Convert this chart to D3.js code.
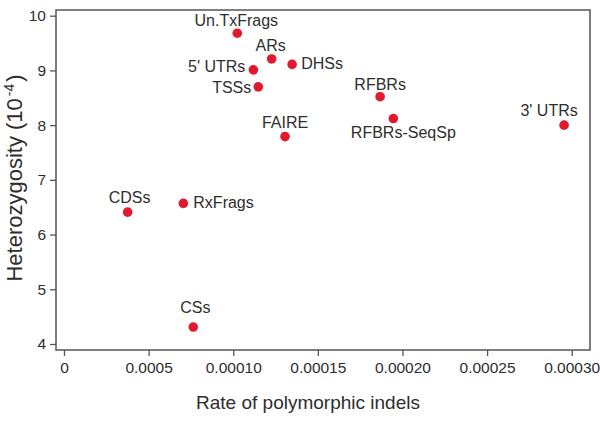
<!DOCTYPE html>
<html>
<head>
<meta charset="utf-8">
<script src="https://cdn.jsdelivr.net/npm/d3@7"></script>
<style>
  html, body { margin: 0; padding: 0; background: #fff; }
  svg text { font-family: "Liberation Sans", Arial, sans-serif; fill: #2e2e2e; }
</style>
</head>
<body>
<svg id="chart" width="600" height="421"></svg>
<script>
// ---- data ----
const categories = ["Un.TxFrags", "ARs", "DHSs", "5' UTRs", "TSSs", "FAIRE", "RFBRs", "RFBRs-SeqSp", "3' UTRs", "CDSs", "RxFrags", "CSs"];
const indelRate = [0.0001024, 0.0001227, 0.0001348, 0.0001119, 0.0001148, 0.0001306, 0.0001868, 0.0001946, 0.0002955, 0.0000376, 0.0000705, 0.0000764];
const heterozygosity = [9.68, 9.21, 9.11, 9.01, 8.70, 7.79, 8.52, 8.12, 8.00, 6.41, 6.57, 4.31];
const xTickValues = [0, 0.00005, 0.00010, 0.00015, 0.00020, 0.00025, 0.00030];
const xTickLabels = ["0", "0.0005", "0.00010", "0.00015", "0.00020", "0.00025", "0.00030"];
const yTickValues = [4, 5, 6, 7, 8, 9, 10];
const yTickLabels = ["4", "5", "6", "7", "8", "9", "10"];

// ---- label styling (anchor + pixel offsets from the point) ----
const labelStyle = {
  "Un.TxFrags":  { anchor: "middle", dx: -1,  dy: -7 },
  "ARs":         { anchor: "middle", dx: -1,  dy: -8 },
  "DHSs":        { anchor: "start",  dx: 9,   dy: 5 },
  "5' UTRs":     { anchor: "end",    dx: -8,  dy: 2 },
  "TSSs":        { anchor: "end",    dx: -7,  dy: 6 },
  "FAIRE":       { anchor: "middle", dx: 0,   dy: -9 },
  "RFBRs":       { anchor: "middle", dx: 0,   dy: -7 },
  "RFBRs-SeqSp": { anchor: "middle", dx: 10,  dy: 19 },
  "3' UTRs":     { anchor: "middle", dx: -15, dy: -9 },
  "CDSs":        { anchor: "middle", dx: 2,   dy: -9 },
  "RxFrags":     { anchor: "start",  dx: 10,  dy: 5 },
  "CSs":         { anchor: "middle", dx: 2,   dy: -14 }
};

// ---- layout ----
const svg = d3.select("#chart");
const box = { left: 56, right: 590, top: 10, bottom: 350 };

const x = d3.scaleLinear().domain([0, 0.0003]).range([64, 571.7]);
const y = d3.scaleLinear().domain([4, 10]).range([344, 15.7]);

// frame
svg.append("rect")
  .attr("x", box.left).attr("y", box.top)
  .attr("width", box.right - box.left).attr("height", box.bottom - box.top)
  .attr("fill", "none").attr("stroke", "#555").attr("stroke-width", 1.5);

// x axis
const xAxis = svg.append("g")
  .attr("transform", `translate(0,${box.bottom})`)
  .call(d3.axisBottom(x).tickValues(xTickValues)
    .tickFormat((d, i) => xTickLabels[i]).tickSize(6).tickPadding(6));
xAxis.select(".domain").remove();
xAxis.selectAll(".tick line").attr("stroke", "#555").attr("stroke-width", 1.3);
xAxis.selectAll(".tick text").style("font-size", "15.5px").attr("fill", "#2e2e2e");

// y axis
const yAxis = svg.append("g")
  .attr("transform", `translate(${box.left},0)`)
  .call(d3.axisLeft(y).tickValues(yTickValues)
    .tickFormat((d, i) => yTickLabels[i]).tickSize(6).tickPadding(4));
yAxis.select(".domain").remove();
yAxis.selectAll(".tick line").attr("stroke", "#555").attr("stroke-width", 1.3);
yAxis.selectAll(".tick text").style("font-size", "15.5px").attr("fill", "#2e2e2e");

// axis titles
svg.append("text")
  .attr("x", 308).attr("y", 409)
  .attr("text-anchor", "middle")
  .style("font-size", "19px")
  .text("Rate of polymorphic indels");

const yt = svg.append("text")
  .attr("transform", "translate(22,178) rotate(-90)")
  .attr("text-anchor", "middle")
  .style("font-size", "22px");
yt.append("tspan").text("Heterozygosity (10");
yt.append("tspan").attr("dx", 2).attr("dy", -8).style("font-size", "14px").text("-4");
yt.append("tspan").attr("dx", 2).attr("dy", 8).text(")");

// points
const data = categories.map((c, i) => ({ name: c, xv: indelRate[i], yv: heterozygosity[i] }));

svg.append("g").selectAll("circle").data(data).join("circle")
  .attr("cx", d => x(d.xv)).attr("cy", d => y(d.yv))
  .attr("r", 4.8).attr("fill", "#e2192e");

// labels
svg.append("g").selectAll("text").data(data).join("text")
  .style("font-size", "16px")
  .attr("x", d => x(d.xv) + labelStyle[d.name].dx)
  .attr("y", d => y(d.yv) + labelStyle[d.name].dy)
  .attr("text-anchor", d => labelStyle[d.name].anchor)
  .text(d => d.name);
</script>
</body>
</html>
